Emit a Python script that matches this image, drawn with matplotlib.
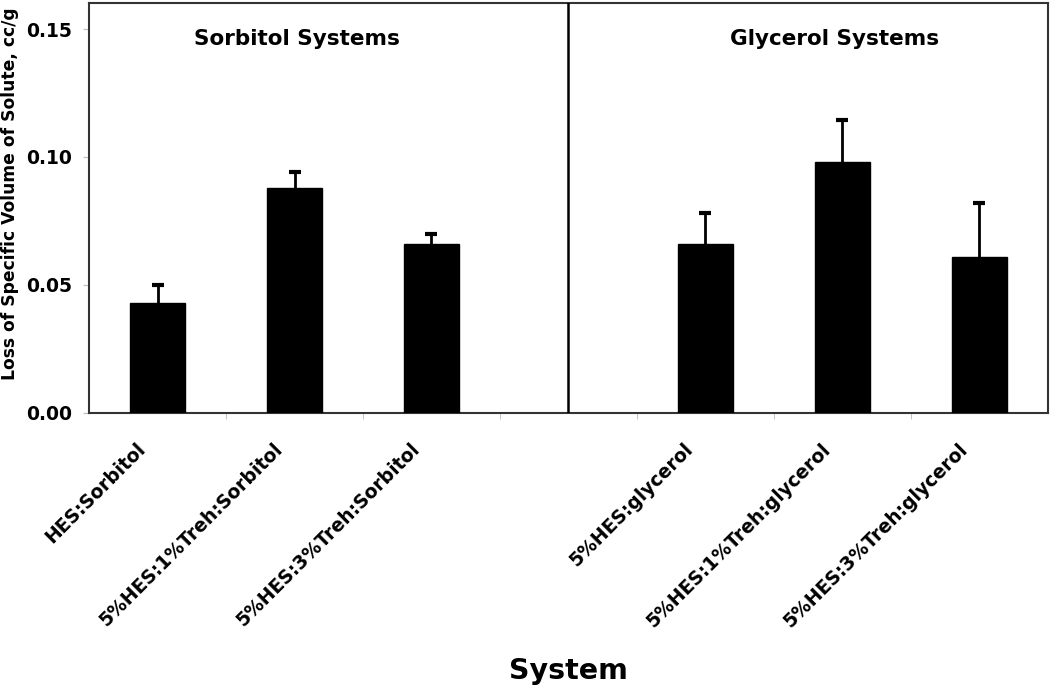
import matplotlib
matplotlib.use("Agg")
import matplotlib.pyplot as plt
import matplotlib.transforms as mtransforms
import numpy as np

categories = ["HES:Sorbitol", "5%HES:1%Treh:Sorbitol", "5%HES:3%Treh:Sorbitol",
              "5%HES:glycerol", "5%HES:1%Treh:glycerol", "5%HES:3%Treh:glycerol"]
values = [0.043, 0.088, 0.066, 0.066, 0.098, 0.061]
errors = [0.007, 0.006, 0.0037, 0.012, 0.0163, 0.0208]
positions = [0, 1, 2, 4, 5, 6]
group_titles = ["Sorbitol Systems", "Glycerol Systems"]
group_centers = [1.02, 4.94]

plt.rcParams['font.family'] = ['DejaVu Sans']
plt.rcParams['font.weight'] = 'bold'

fig = plt.figure(figsize=(10.5, 6.86), dpi=100)
ax = fig.add_axes([0.0848, 0.3984, 0.9132, 0.5966])

ax.bar(positions, values, width=0.4, color='black', edgecolor='black', zorder=3)
eb = ax.errorbar(positions, values, yerr=[np.zeros(len(errors)), errors], fmt='none',
                 ecolor='black', elinewidth=2, capsize=4, capthick=3, zorder=2)
# hide the lower caps (one-sided error bars)
caplines = eb.lines[1]
if len(caplines) >= 1:
    caplines[0].set_visible(False)

ax.axvline(3, color='black', lw=1.8, zorder=4)

ax.set_xlim(-0.5, 6.5)
ax.set_ylim(0, 0.160)
ax.set_yticks([0.0, 0.05, 0.10, 0.15])
ax.set_yticklabels(["0.00", "0.05", "0.10", "0.15"], fontsize=13.5, fontweight='bold')

ax.set_xticks(positions)
ax.set_xticklabels(categories, rotation=45, ha='right', va='center',
                   rotation_mode='anchor', fontsize=13.5, fontweight='bold')
ax.tick_params(axis='x', which='major', length=0, pad=24)
offset = mtransforms.ScaledTranslation(-15 / 100, 0, fig.dpi_scale_trans)
for lab in ax.get_xticklabels():
    lab.set_transform(lab.get_transform() + offset)
ax.set_xticks([-0.5 + i for i in range(1, 7)], minor=True)
ax.tick_params(axis='x', which='minor', length=4, color='#bbbbbb', direction='out')
ax.tick_params(axis='y', length=4, color='#bbbbbb', pad=8)

for s in ax.spines.values():
    s.set_linewidth(1.5)
    s.set_color('#333333')

for t, c in zip(group_titles, group_centers):
    ax.text(c, 0.146, t, ha='center', va='center', fontsize=15.5, fontweight='bold')

ax.set_ylabel("Loss of Specific Volume of Solute, cc/g", fontsize=12.3, fontweight='bold')
ax.yaxis.set_label_coords(-0.073, 0.534)
fig.text(0.541, 0.022, "System", ha='center', va='center', fontsize=20.5, fontweight='bold')

fig.savefig("out.png", dpi=100)
